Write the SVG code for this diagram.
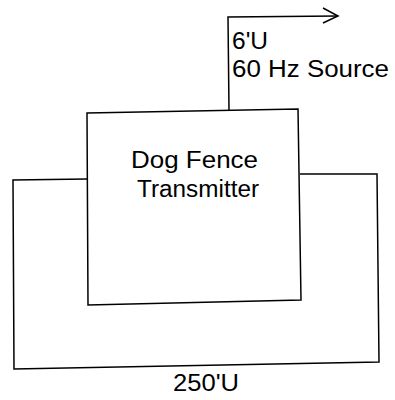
<svg xmlns="http://www.w3.org/2000/svg" width="395" height="400" viewBox="0 0 395 400">
<style>
.ln{fill:none;stroke:#000;stroke-width:1.5;stroke-linejoin:miter}
.t{font-family:"Liberation Sans",Arial,sans-serif;font-size:23.5px;fill:#000}
</style>
<rect width="395" height="400" fill="#fff"/>
<g id="connectors">
<polyline class="ln" points="229,110 228,17 338,16"/>
<polyline class="ln" points="323,8 338,16 323,23"/>
<polyline class="ln" points="87,179 13,180 14,369 379,362 377,174 300,174"/>
</g>
<g id="transmitter">
<polygon class="ln" points="87,113 298,109 301,300 88,305"/>
<text class="t" x="131" y="168" textLength="127" lengthAdjust="spacingAndGlyphs">Dog Fence</text>
<text class="t" x="137" y="197" textLength="122" lengthAdjust="spacingAndGlyphs">Transmitter</text>
</g>
<g id="source-label">
<text class="t" x="232" y="49" textLength="36" lengthAdjust="spacingAndGlyphs">6'U</text>
<text class="t" x="232" y="77" textLength="157" lengthAdjust="spacingAndGlyphs">60 Hz Source</text>
</g>
<g id="loop-label">
<text class="t" x="173" y="391" textLength="66" lengthAdjust="spacingAndGlyphs">250'U</text>
</g>
</svg>
